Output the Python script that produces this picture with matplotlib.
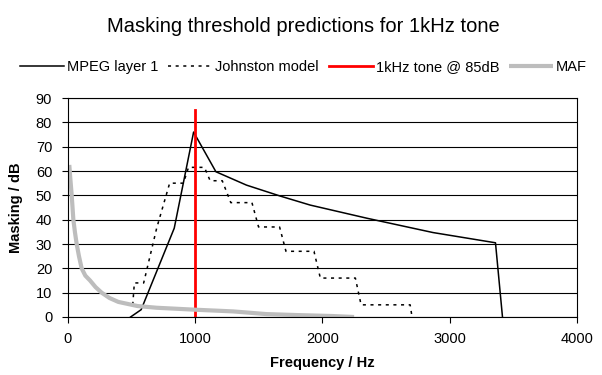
#!/usr/bin/env python3
"""Masking threshold predictions for a 1 kHz tone."""
import matplotlib
matplotlib.use('Agg')
import matplotlib.pyplot as plt

# MPEG layer 1 masking threshold (Hz, dB)
mpeg_f = [495, 578, 838, 990, 1165, 1405, 1670, 1905, 2350, 2870, 3360, 3415]
mpeg_db = [0, 3, 36.5, 76, 59.7, 54.2, 49.7, 46, 40.6, 34.7, 30.5, 0]

# Johnston model (stepped)
john_f = [512, 525, 598, 700, 802, 910, 950, 1075, 1120, 1215, 1282, 1448,
          1500, 1665, 1715, 1935, 1985, 2260, 2305, 2690, 2705]
john_db = [5, 14, 14, 36.5, 55, 55, 61.5, 61.5, 56, 56, 47, 47,
           37, 37, 27, 27, 16, 16, 5, 5, 0]

# masker tone
tone_f = [1000, 1000]
tone_db = [0, 85]

# minimum audible field
maf_f = [14, 22, 33, 46, 58, 72, 90, 111, 140, 177, 220, 268, 330, 399, 550,
         700, 1000, 1300, 1560, 1800, 2080, 2250]
maf_db = [62.5, 57, 50, 40, 35, 30, 25, 20, 17, 15, 12.3, 10, 7.8, 6.2, 4.5,
          3.8, 3, 2.3, 1.2, 0.8, 0.4, 0]

plt.rcParams.update({'font.family': ['Liberation Sans', 'DejaVu Sans'], 'font.size': 10.5})

fig = plt.figure(figsize=(6.02, 3.75), dpi=100)
ax = fig.add_axes([67.5/602, 1-317/375, (577-67.5)/602, (317-98)/375])

ax.plot(mpeg_f, mpeg_db, color='black', lw=1.1, label='MPEG layer 1')
ax.plot(john_f, john_db, color='black', lw=1.1, ls=(0, (2, 3)), label='Johnston model')
ax.plot(tone_f, tone_db, color='#ff0000', lw=2.0, label='1kHz tone @ 85dB')
ax.plot(maf_f, maf_db, color='#bdbdbd', lw=3.0, label='MAF', solid_capstyle='butt')

ax.set_xlim(0, 4000); ax.set_ylim(0, 90)
ax.set_xticks(range(0, 4001, 1000)); ax.set_yticks(range(0, 91, 10))
ax.grid(True, axis='y', color='black', lw=0.8)
ax.set_axisbelow(True)
for s in ax.spines.values():
    s.set_linewidth(0.8); s.set_color('black')
ax.tick_params(direction='out', length=4, width=0.8, pad=7)
ax.set_xlabel('Frequency / Hz', fontweight='bold', labelpad=7)
ax.set_ylabel('Masking / dB', fontweight='bold', labelpad=9)

fig.text(303/602, 1-27/375, 'Masking threshold predictions for 1kHz tone',
         ha='center', va='center', fontsize=14.5)
fig.legend(loc='center', bbox_to_anchor=(303.5/602, 1-67/375), ncol=4, frameon=False,
           handlelength=3.0, handletextpad=0.2, columnspacing=0.7, borderaxespad=0)

fig.savefig('out.png', dpi=100)
